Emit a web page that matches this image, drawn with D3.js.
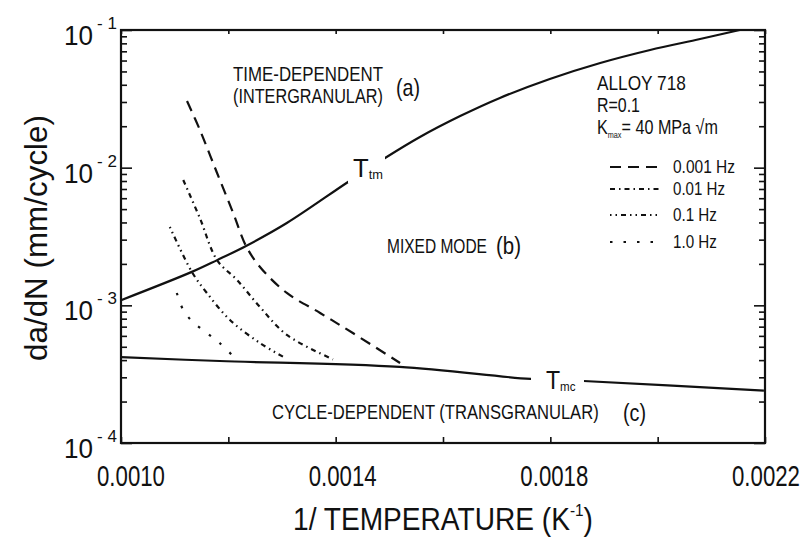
<!DOCTYPE html>
<html><head><meta charset="utf-8">
<script src="https://cdn.jsdelivr.net/npm/d3@7"></script>
<style>
body{margin:0;background:#fff;}
svg text{font-family:"Liberation Sans",Arial,sans-serif;fill:#111;}
</style></head>
<body><svg id="c" width="808" height="538"></svg>
<script>
// ---------------- data ----------------
const xTickValues = [0.0010,0.0012,0.0014,0.0016,0.0018,0.0020,0.0022];
const xTickLabels = ["0.0010","0.0014","0.0018","0.0022"];
const yMajorTicks = [1e-4,1e-3,1e-2,1e-1];
const yTickExponents = ["-4","-3","-2","-1"];

// T_tm boundary (time-dependent / mixed)
const tmX = [0.00100,0.001132,0.001179,0.001233,0.001309,0.001423,0.001492,0.001557,0.001632,0.001706,0.001799,0.001893,0.001986,0.002079,0.002153];
const tmY = [1.09e-3,1.75e-3,2.13e-3,2.70e-3,3.96e-3,7.87e-3,1.175e-2,1.67e-2,2.37e-2,3.21e-2,4.41e-2,5.76e-2,7.16e-2,8.60e-2,1.0e-1];
// T_mc boundary (mixed / cycle-dependent)
const tmcX = [0.00100,0.001184,0.001519,0.001763,0.001862,0.002198];
const tmcY = [4.2e-4,3.94e-4,3.57e-4,2.92e-4,2.82e-4,2.40e-4];

const freqLabels = ["0.001 Hz","0.01 Hz","0.1 Hz","1.0 Hz"];
const f0001X = [0.001123,0.001147,0.001179,0.001209,0.001233,0.001259,0.001309,0.001371,0.001432,0.001520];
const f0001Y = [3.05e-2,1.88e-2,9.15e-3,4.69e-3,2.70e-3,1.90e-3,1.23e-3,8.80e-4,6.29e-4,3.81e-4];
const f001X = [0.001116,0.001147,0.001179,0.001216,0.001259,0.001309,0.001395];
const f001Y = [8.13e-3,4.3e-3,2.13e-3,1.53e-3,9.72e-4,6.1e-4,4.05e-4];
const f01X = [0.001091,0.001132,0.001160,0.001203,0.001259,0.001306];
const f01Y = [3.71e-3,1.75e-3,1.23e-3,7.83e-4,5.32e-4,4.15e-4];
const f1X = [0.001104,0.001116,0.001134,0.001160,0.001184,0.001207];
const f1Y = [1.23e-3,9.25e-4,7.57e-4,6.30e-4,5.32e-4,4.35e-4];

// ---------------- layout ----------------
const svg = d3.select("#c");
const L = 121, T = 30, R = 765, B = 443;
const x = d3.scaleLinear().domain([0.0010,0.0022]).range([L,R]);
const y = d3.scaleLog().domain([1e-4,1e-1]).range([B,T]);
const xLab = d3.scaleLinear().domain([0.0010,0.0022]).range([131,766]);

svg.append("rect").attr("width",808).attr("height",538).attr("fill","#fff");

function ftext(parent, xp, yp, size, width, anchor, build){
  const g = parent.append("g");
  const t = g.append("text").attr("x",xp).attr("y",yp).attr("font-size",size)
    .attr("text-anchor",anchor||"start");
  if (typeof build === "string") t.text(build); else build(t);
  const w = t.node().getBBox().width;
  if (width && w>0){
    const s = width/w;
    g.attr("transform",`translate(${xp},0) scale(${s},1) translate(${-xp},0)`);
  }
  return g;
}

const minorY = [];
for (let e=-4; e<-1; e++) for (let m=2; m<=9; m++) minorY.push(m*Math.pow(10,e));

svg.append("g").attr("transform",`translate(${L},0)`)
  .call(d3.axisLeft(y).tickValues(minorY).tickSize(-6).tickFormat(""));
svg.append("g").attr("transform",`translate(${L},0)`)
  .call(d3.axisLeft(y).tickValues(yMajorTicks).tickSize(-11).tickFormat(""));
svg.append("g").attr("transform",`translate(${R},0)`)
  .call(d3.axisRight(y).tickValues(minorY).tickSize(-6).tickFormat(""));
svg.append("g").attr("transform",`translate(${R},0)`)
  .call(d3.axisRight(y).tickValues(yMajorTicks).tickSize(-11).tickFormat(""));
svg.append("g").attr("transform",`translate(0,${B})`)
  .call(d3.axisBottom(x).tickValues(xTickValues).tickSize(-6).tickFormat(""));
svg.append("g").attr("transform",`translate(0,${T})`)
  .call(d3.axisTop(x).tickValues(xTickValues).tickSize(-4).tickFormat(""));
svg.selectAll(".domain").remove();
svg.selectAll(".tick line").attr("stroke","#111").attr("stroke-width",1.6);

svg.append("rect").attr("x",L).attr("y",T).attr("width",R-L).attr("height",B-T)
  .attr("fill","none").attr("stroke","#111").attr("stroke-width",2.2);

xTickLabels.forEach(d=>{ ftext(svg, xLab(+d), B+43, 30, 68, "middle", d); });

yMajorTicks.forEach((v,i)=>{
  ftext(svg, L-28, y(v)+15, 27, 29, "end", "10");
  svg.append("text").attr("x",L-24).attr("y",y(v)-1).attr("font-size",17)
    .text(yTickExponents[i].replace("-","- "));
});

svg.append("text").attr("transform",`translate(47,238) rotate(-90)`)
  .attr("text-anchor","middle").attr("font-size",31).attr("textLength",246)
  .attr("lengthAdjust","spacingAndGlyphs").text("da/dN (mm/cycle)");
ftext(svg, 443, 530, 31, 300, "middle", t=>{
  t.append("tspan").text("1/ TEMPERATURE (K");
  t.append("tspan").attr("font-size",17).attr("dy",-14).text("-1");
  t.append("tspan").attr("dy",14).text(")");
});

const zipd = (a,b)=>a.map((v,i)=>[v,b[i]]);
const line = d3.line().x(d=>x(d[0])).y(d=>y(d[1])).curve(d3.curveCatmullRom);
const plot = svg.append("g");
plot.append("path").datum(zipd(tmX,tmY)).attr("d",line).attr("fill","none")
  .attr("stroke","#111").attr("stroke-width",2.2);
plot.append("path").datum(zipd(tmcX,tmcY)).attr("d",line).attr("fill","none")
  .attr("stroke","#111").attr("stroke-width",2.2);

const styles = ["11,7", "5,4,1.5,4", "1.5,4,1.5,4,5,4", "2.5,11"];
[[f0001X,f0001Y],[f001X,f001Y],[f01X,f01Y],[f1X,f1Y]].forEach((s,i)=>{
  plot.append("path").datum(zipd(s[0],s[1])).attr("d",line).attr("fill","none")
    .attr("stroke","#111").attr("stroke-width",2.2).attr("stroke-dasharray",styles[i]);
});

function clabel(xp,yp,sub,w,gx0,gx1){
  svg.append("rect").attr("x",gx0).attr("y",yp-24).attr("width",gx1-gx0).attr("height",30).attr("fill","#fff");
  ftext(svg, xp, yp, 26, w, "start", t=>{
    t.append("tspan").text("T");
    t.append("tspan").attr("font-size",13).attr("dy",2).text(sub);
  });
}
clabel(353,177,"tm",30,348,385);
clabel(546,389,"mc",30,531,584);

ftext(svg,233,81,20,150,"start","TIME-DEPENDENT");
ftext(svg,233,103,20,150,"start","(INTERGRANULAR)");
ftext(svg,396,96,24,24,"start","(a)");
ftext(svg,387,253,21,100,"start","MIXED MODE");
ftext(svg,496,254,24,25,"start","(b)");
ftext(svg,272,419,21,327,"start","CYCLE-DEPENDENT (TRANSGRANULAR)");
ftext(svg,623,421,24,23,"start","(c)");

ftext(svg,597,90,20,89,"start","ALLOY 718");
ftext(svg,597,112,20,43,"start","R=0.1");
ftext(svg,597,134,20,121,"start",t=>{
  t.append("tspan").text("K");
  t.append("tspan").attr("font-size",9).attr("dy",4).text("max");
  t.append("tspan").attr("dy",-4).text("= 40 MPa \u221Am");
});

const legY = [167,189,215,242];
const legW = [62,52,44,44];
freqLabels.forEach((s,i)=>{
  svg.append("line").attr("x1",610).attr("x2",660).attr("y1",legY[i]).attr("y2",legY[i])
    .attr("stroke","#111").attr("stroke-width",2).attr("stroke-dasharray",styles[i]);
  ftext(svg,673,legY[i]+6,18,legW[i],"start",s);
});
</script></body></html>
